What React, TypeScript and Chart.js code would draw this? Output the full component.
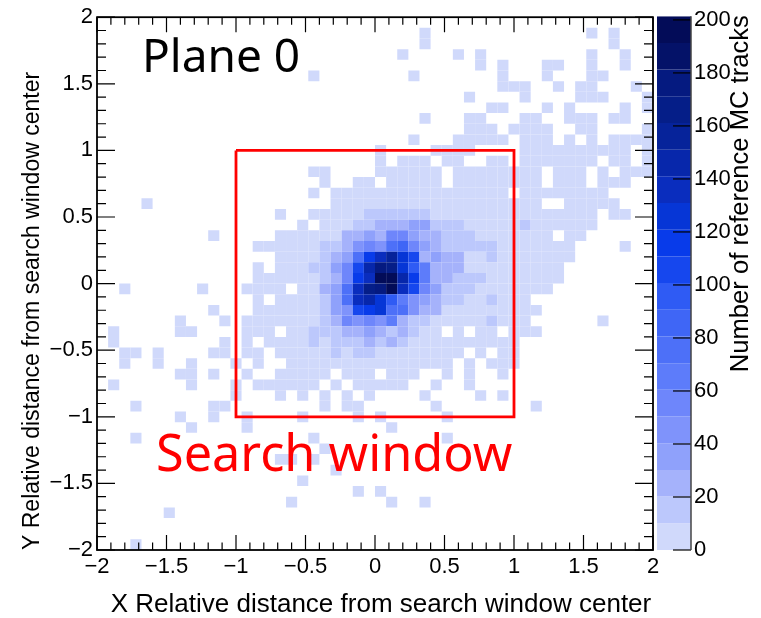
import React, { useEffect, useRef } from "react";
import { Chart, registerables } from "chart.js";

Chart.register(...registerables);

// Axis data
const axisMin = -2;
const axisMax = 2;
const binWidth = 0.08;
const colorMax = 201.4;
const colorTicks = 20;
const lowCount = 5;

// Occupied columns (0 = left) of every row (0 = top)
const occupiedColumns: number[][] = [
  [],
  [29, 44, 46],
  [29, 46],
  [27, 32, 34, 44, 47],
  [34, 36, 40, 41, 44, 47],
  [19, 28, 36, 40, 44, 45],
  [36, 37, 38, 41, 43, 44, 48],
  [33, 38, 43, 44, 45, 49],
  [35, 36, 40, 42, 47, 49],
  [29, 33, 34, 38, 39, 42, 43, 44, 46, 47],
  [33, 34, 35, 37, 38, 39, 40, 43, 44, 49],
  [28, 32, 33, 34, 35, 36, 38, 39, 40, 42, 44, 46, 47, 48, 49],
  [25, 30, 31, 32, 33, 38, 39, 40, 41, 42, 43, 44, 45, 46, 47, 49],
  [25, 27, 28, 29, 31, 32, 35, 36, 38, 39, 40, 41, 42, 43, 44, 46, 47, 49],
  [19, 20, 25, 26, 27, 28, 29, 30, 32, 33, 34, 35, 36, 37, 38, 39, 41, 42, 43, 45, 47, 48, 49],
  [20, 23, 24, 26, 27, 28, 29, 30, 32, 33, 34, 35, 36, 37, 38, 39, 41, 42, 43, 45, 46, 47],
  [19, 21, 22, 23, 24, 25, 26, 27, 28, 29, 30, 31, 32, 33, 34, 35, 36, 38, 39, 40, 41, 42, 43, 44, 45],
  [4, 21, 22, 23, 24, 25, 26, 27, 28, 29, 30, 31, 32, 33, 34, 35, 36, 37, 38, 39, 42, 43, 44, 45, 46],
  [16, 19, 20, 21, 22, 23, 24, 25, 26, 27, 28, 29, 30, 31, 32, 33, 34, 35, 36, 37, 38, 39, 40, 41, 42, 43, 44, 46, 47],
  [18, 20, 21, 22, 23, 24, 25, 26, 27, 28, 29, 30, 31, 32, 33, 34, 35, 36, 37, 38, 39, 40, 41, 42, 43, 44],
  [10, 16, 17, 18, 19, 20, 21, 22, 23, 24, 25, 26, 27, 28, 29, 30, 31, 32, 33, 34, 35, 36, 37, 38, 39, 40, 42, 43],
  [14, 15, 16, 17, 18, 19, 20, 21, 22, 23, 24, 25, 26, 27, 28, 29, 30, 31, 32, 33, 34, 35, 36, 37, 38, 39, 40, 41, 42, 47],
  [16, 17, 18, 19, 20, 21, 22, 23, 24, 25, 26, 27, 28, 29, 30, 31, 32, 33, 34, 35, 36, 37, 38, 39, 40, 41, 42],
  [14, 16, 17, 18, 19, 20, 21, 22, 23, 24, 25, 26, 27, 28, 29, 30, 31, 32, 33, 34, 35, 36, 37, 38, 39, 40, 41],
  [14, 15, 16, 17, 18, 19, 20, 21, 22, 23, 24, 25, 26, 27, 28, 29, 30, 31, 32, 33, 34, 35, 36, 37, 38, 39, 40, 41],
  [2, 9, 13, 14, 15, 16, 18, 19, 20, 21, 22, 23, 24, 25, 26, 27, 28, 29, 30, 31, 32, 33, 34, 35, 36, 37, 38, 39, 40],
  [14, 16, 17, 18, 19, 20, 21, 22, 23, 24, 25, 26, 27, 28, 29, 30, 31, 32, 33, 34, 35, 36, 37, 38],
  [10, 14, 15, 16, 17, 18, 19, 20, 21, 22, 23, 24, 25, 26, 27, 28, 29, 30, 31, 32, 33, 34, 35, 36, 37, 38, 39],
  [7, 11, 13, 14, 15, 16, 17, 18, 19, 20, 21, 22, 23, 24, 25, 26, 27, 28, 29, 30, 31, 32, 33, 34, 35, 36, 37, 38, 45],
  [1, 7, 8, 13, 14, 15, 17, 18, 19, 20, 21, 22, 23, 24, 25, 26, 27, 28, 29, 30, 32, 34, 35, 37, 38, 39],
  [1, 11, 13, 15, 16, 17, 18, 19, 20, 21, 22, 23, 24, 25, 26, 27, 28, 29, 30, 31, 32, 33, 34, 35, 36, 37],
  [2, 3, 5, 10, 11, 13, 14, 16, 17, 18, 19, 20, 21, 22, 23, 24, 25, 26, 27, 28, 29, 30, 31, 32, 34, 36, 37],
  [2, 5, 8, 12, 14, 17, 18, 19, 20, 21, 22, 23, 24, 25, 26, 27, 28, 29, 30, 31, 33, 35, 36, 37],
  [7, 8, 10, 13, 16, 17, 18, 19, 20, 22, 23, 24, 26, 27, 28, 31, 33, 36],
  [1, 8, 12, 14, 15, 16, 17, 18, 19, 21, 23, 24, 25, 26, 27, 30, 33],
  [12, 16, 18, 20, 22, 24, 29, 34, 36],
  [3, 10, 11, 20, 22, 23, 30, 39],
  [7, 10, 13, 18, 23, 25, 31],
  [8, 13, 26],
  [3, 19, 31],
  [20],
  [16, 17, 19],
  [21],
  [18],
  [23, 25],
  [17, 26, 29],
  [6],
  [],
  [],
  [3],
];

// Counts of the core: rows 18..31, columns 19..35
const coreFirstRow = 18;
const coreFirstColumn = 19;
const coreCounts: number[][] = [
  [5, 5, 5, 5, 5, 15, 15, 15, 15, 15, 15, 5, 5, 5, 5, 5, 5],
  [0, 5, 5, 5, 15, 15, 25, 25, 25, 35, 35, 15, 15, 15, 5, 5, 5],
  [5, 5, 5, 25, 25, 35, 25, 55, 55, 35, 25, 25, 15, 15, 15, 5, 5],
  [5, 15, 15, 25, 45, 55, 45, 75, 85, 55, 35, 25, 15, 15, 15, 15, 15],
  [5, 15, 25, 35, 75, 115, 135, 155, 125, 105, 25, 35, 25, 25, 5, 5, 15],
  [15, 15, 35, 55, 105, 145, 175, 165, 125, 95, 65, 25, 25, 25, 5, 5, 5],
  [5, 15, 25, 55, 115, 135, 195, 195, 145, 115, 65, 25, 25, 15, 15, 15, 5],
  [5, 25, 35, 75, 135, 165, 175, 195, 135, 105, 55, 35, 15, 15, 15, 5, 5],
  [5, 15, 35, 75, 135, 145, 125, 95, 65, 45, 35, 25, 15, 15, 5, 5, 15],
  [5, 15, 35, 45, 105, 115, 125, 75, 75, 45, 25, 25, 5, 5, 5, 5, 5],
  [5, 15, 25, 55, 45, 55, 45, 65, 25, 15, 15, 5, 5, 5, 5, 5, 15],
  [15, 15, 15, 25, 25, 35, 25, 15, 25, 15, 5, 5, 0, 5, 0, 5, 5],
  [15, 5, 15, 15, 15, 25, 15, 25, 15, 5, 5, 5, 5, 5, 5, 5, 5],
  [5, 5, 15, 5, 15, 15, 5, 5, 5, 5, 5, 5, 5, 5, 0, 5, 0],
];
const extraRows = [19];
const extraColumns = [38];
const extraCounts = [15];

const palette = [
  "#d0d9fb", "#bcc8fc", "#a5b2fb", "#8fa1fb", "#7f93fb",
  "#6e86fb", "#5d7cfa", "#4d70f8", "#3f66f6", "#2f5bf4",
  "#1647ee", "#083bea", "#0636d6", "#0a2dbe", "#0727ab",
  "#06239a", "#051e88", "#051a80", "#041268", "#030c58",
];

const boxX = [-1, 1, 1, -1, -1];
const boxY = [1, 1, -1, -1, 1];

const xTitle = "X Relative distance from search window center";
const yTitle = "Y Relative distance from search window center";
const zTitle = "Number of reference MC tracks";
const planeLabel = "Plane 0";
const windowLabel = "Search window";

const fontFamily = "'Liberation Sans', Arial, sans-serif";
const noteFamily = "'Noto Sans', sans-serif";
const fmt = (v: number) => String(v).replace("-", "\u2212");
const bandColor = (count: number) =>
  palette[Math.min(palette.length - 1, Math.floor(count / 10))];

function countAt(row: number, col: number) {
  const e = extraRows.findIndex((r, k) => r === row && extraColumns[k] === col);
  if (e >= 0) return extraCounts[e];
  const coreRow = coreCounts[row - coreFirstRow];
  const c = col - coreFirstColumn;
  if (coreRow && c >= 0 && c < coreRow.length) return coreRow[c];
  return lowCount;
}

function buildCells() {
  const out: { x: number; y: [number, number]; v: number }[] = [];
  occupiedColumns.forEach((cols, row) => {
    cols.forEach((col) => {
      const v = countAt(row, col);
      if (v <= 0) return;
      const top = axisMax - row * binWidth;
      out.push({ x: axisMin + (col + 0.5) * binWidth, y: [top - binWidth, top], v });
    });
  });
  return out;
}

const frame = {
  id: "frame",
  afterDatasetsDraw(chart: any) {
    const { ctx, chartArea: a, scales } = chart;
    ctx.save();
    ctx.strokeStyle = "#000";
    ctx.lineWidth = 1.2;
    for (let k = -20; k <= 20; k++) {
      const v = k / 10;
      const major = k % 5 === 0;
      const px = scales.x.getPixelForValue(v);
      const py = scales.y.getPixelForValue(v);
      const lx = major ? 15 : 7.5;
      const ly = major ? 18 : 9;
      ctx.beginPath();
      ctx.moveTo(px, a.bottom); ctx.lineTo(px, a.bottom - lx);
      ctx.moveTo(px, a.top); ctx.lineTo(px, a.top + lx);
      ctx.moveTo(a.left, py); ctx.lineTo(a.left + ly, py);
      ctx.moveTo(a.right, py); ctx.lineTo(a.right - ly, py);
      ctx.stroke();
    }
    ctx.lineWidth = 1.8;
    ctx.strokeRect(a.left, a.top, a.right - a.left, a.bottom - a.top);
    ctx.textBaseline = "alphabetic";
    ctx.textAlign = "left";
    ctx.fillStyle = "#000";
    ctx.font = `46px ${noteFamily}`;
    ctx.fillText(planeLabel, 142, 72);
    ctx.fillStyle = "#ff0000";
    ctx.font = `50.4px ${noteFamily}`;
    ctx.fillText(windowLabel, 156, 471);
    ctx.fillStyle = "#000";
    ctx.font = `26px ${fontFamily}`;
    ctx.textAlign = "center";
    ctx.textBaseline = "middle";
    ctx.fillText(xTitle, 381, 605);
    ctx.restore();
  },
};

const colorFrame = {
  id: "colorFrame",
  afterDatasetsDraw(chart: any) {
    const { ctx, chartArea: a, scales } = chart;
    ctx.save();
    ctx.strokeStyle = "#000";
    ctx.lineWidth = 1.2;
    scales.y.ticks.forEach((t: any) => {
      const py = scales.y.getPixelForValue(t.value);
      ctx.beginPath();
      ctx.moveTo(a.right, py); ctx.lineTo(a.right - 18, py);
      ctx.stroke();
    });
    ctx.strokeStyle = "#444";
    ctx.lineWidth = 1.5;
    ctx.beginPath();
    ctx.moveTo(a.right, a.top); ctx.lineTo(a.right, a.bottom);
    ctx.stroke();
    ctx.translate(741, a.top - 1);
    ctx.rotate(-Math.PI / 2);
    ctx.fillStyle = "#000";
    ctx.font = `25.6px ${fontFamily}`;
    ctx.textAlign = "right";
    ctx.textBaseline = "middle";
    ctx.fillText(zTitle, 0, 0);
    ctx.restore();
  },
};

export default function App() {
  const mainRef = useRef<HTMLCanvasElement>(null);
  const barRef = useRef<HTMLCanvasElement>(null);

  useEffect(() => {
    const cells = buildCells();
    const main = new Chart(mainRef.current!, {
      type: "bar",
      data: {
        datasets: [
          {
            type: "line",
            data: boxX.map((x, i) => ({ x, y: boxY[i] })),
            borderColor: "#ff0000",
            borderWidth: 2.8,
            pointRadius: 0,
            order: 0,
            fill: false,
          } as any,
          {
            type: "bar",
            data: cells as any,
            backgroundColor: cells.map((c) => bandColor(c.v)),
            borderWidth: 0,
            barThickness: 11.12,
            inflateAmount: 0,
            order: 1,
          } as any,
        ],
      },
      options: {
        responsive: false,
        animation: false,
        events: [],
        layout: { padding: { left: 0, right: 108, top: 13, bottom: 0 } },
        plugins: { legend: { display: false }, tooltip: { enabled: false } },
        scales: {
          x: {
            type: "linear",
            offset: false,
            min: axisMin,
            max: axisMax,
            grid: { display: false, drawTicks: false },
            border: { display: false },
            ticks: {
              stepSize: 0.5,
              color: "#000",
              padding: 4,
              maxRotation: 0,
              font: { family: fontFamily, size: 22 },
              callback: (v: any) => fmt(Number(v)),
            },
            afterFit: (s: any) => { s.height = 68; },
          },
          y: {
            type: "linear",
            min: axisMin,
            max: axisMax,
            grid: { display: false, drawTicks: false },
            border: { display: false },
            ticks: {
              stepSize: 0.5,
              color: "#000",
              padding: 4,
              font: { family: fontFamily, size: 22 },
              callback: (v: any) => fmt(Number(v)),
            },
            title: {
              display: true,
              text: yTitle,
              align: "start",
              color: "#000",
              font: { family: fontFamily, size: 23 },
              padding: { top: 19, bottom: 0 },
            },
            afterFit: (s: any) => { s.width = 97; },
          },
        },
      } as any,
      plugins: [frame],
    });

    const bandSize = colorMax / palette.length;
    const bar = new Chart(barRef.current!, {
      type: "bar",
      data: {
        datasets: [
          {
            data: palette.map((_, i) => ({ x: 0, y: [i * bandSize, (i + 1) * bandSize] })) as any,
            backgroundColor: palette,
            borderWidth: 0,
            barThickness: 34,
            inflateAmount: 0,
          } as any,
        ],
      },
      options: {
        responsive: false,
        animation: false,
        events: [],
        layout: { padding: { left: 657, right: 0, top: 13, bottom: 68 } },
        plugins: { legend: { display: false }, tooltip: { enabled: false } },
        scales: {
          x: { type: "linear", display: false, offset: false, min: -1, max: 1 },
          y: {
            type: "linear",
            position: "right",
            min: 0,
            max: colorMax,
            grid: { display: false, drawTicks: false },
            border: { display: false },
            ticks: {
              stepSize: colorTicks,
              includeBounds: false,
              color: "#000",
              padding: 3,
              font: { family: fontFamily, size: 22 },
            },
            afterFit: (s: any) => { s.width = 70; },
          },
        },
      } as any,
      plugins: [colorFrame],
    });

    return () => {
      main.destroy();
      bar.destroy();
    };
  }, []);

  const canvasStyle: React.CSSProperties = { position: "absolute", left: 0, top: 0 };
  return (
    <div style={{ position: "absolute", left: 0, top: 0, width: 761, height: 618, background: "#fff" }}>
      <canvas ref={mainRef} width={761} height={618} style={canvasStyle} />
      <canvas ref={barRef} width={761} height={618} style={canvasStyle} />
    </div>
  );
}
